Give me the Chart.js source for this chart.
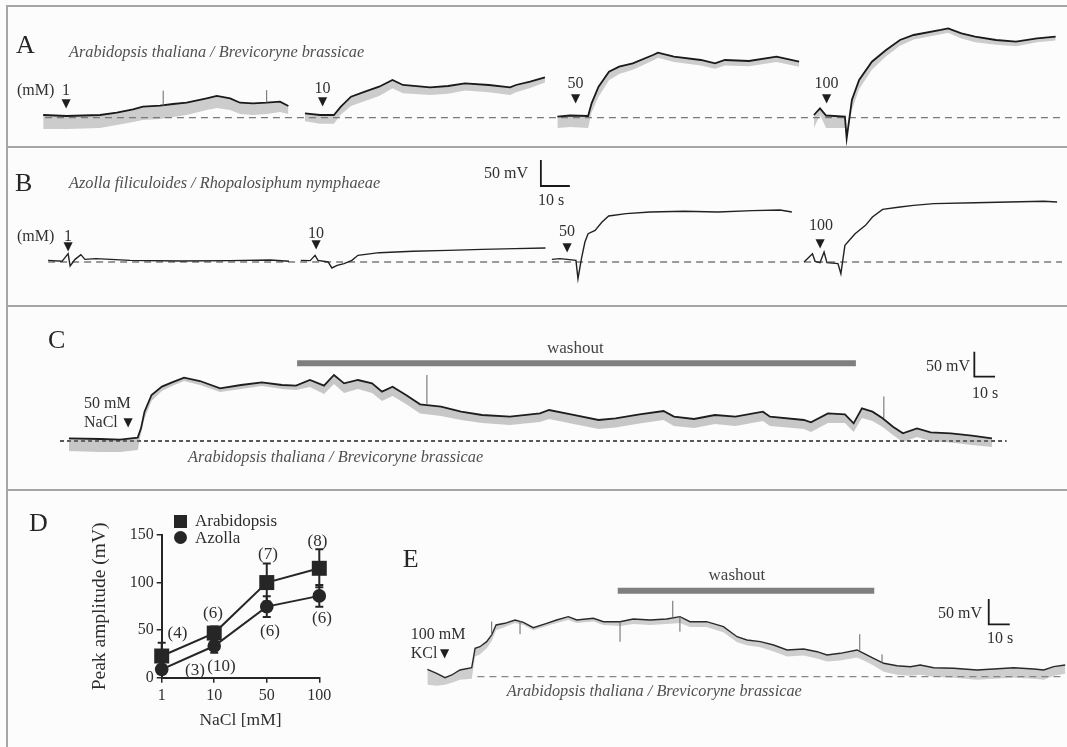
<!DOCTYPE html>
<html>
<head>
<meta charset="utf-8">
<title>NaCl responses</title>
<script src="https://cdn.jsdelivr.net/npm/chart.js@4.4.1/dist/chart.umd.min.js"></script>
<style>
  body { margin: 0; background: #fcfcfc; }
  #fig { position: relative; width: 1067px; height: 747px; overflow: hidden;
         font-family: "Liberation Serif", "Times New Roman", serif; color: #333; }
  .box { position: absolute; }
  .rule { position: absolute; background: #a6a6a6; }
  .t { position: absolute; white-space: nowrap; line-height: 1; }
  .big { font-size: 26px; color: #262626; }
  .it { font-size: 16.3px; font-style: italic; color: #505050; }
  .n { font-size: 16px; color: #303030; }
  .w { font-size: 17px; color: #444; }
  .ax { font-size: 17px; color: #2e2e2e; }
  .tri { font-family: "DejaVu Sans", sans-serif; font-size: 12px; color: #1e1e1e; }
  .key { position: absolute; width: 13px; height: 13px; background: #262626; }
</style>
</head>
<body>
<div id="fig">
  <div class="rule" style="left:6px;top:5px;width:1.5px;height:742px"></div>
  <div class="rule" style="left:6px;top:5px;width:1061px;height:1.5px"></div>
  <div class="rule" style="left:6px;top:146px;width:1061px;height:1.5px"></div>
  <div class="rule" style="left:6px;top:305px;width:1061px;height:1.5px"></div>
  <div class="rule" style="left:6px;top:489px;width:1061px;height:1.5px"></div>

  <div class="box" style="left:0;top:6px;width:1067px;height:140px"><canvas id="chartA"></canvas></div>
  <div class="box" style="left:0;top:147px;width:1067px;height:157px"><canvas id="chartB"></canvas></div>
  <div class="box" style="left:0;top:306px;width:1067px;height:182px"><canvas id="chartC"></canvas></div>
  <div class="box" style="left:60px;top:495px;width:290px;height:250px"><canvas id="chartD"></canvas></div>
  <div class="box" style="left:390px;top:490px;width:677px;height:257px"><canvas id="chartE"></canvas></div>

  <div class="key" style="left:173.5px;top:514.5px"></div>
  <div class="key" style="left:173.5px;top:530.5px;border-radius:50%"></div>
</div>
<script>
// ---- A: Arabidopsis / Brevicoryne, NaCl steps (time s, membrane potential mV above rest)
const a1t = [14.9, 23.0, 34.5, 40.3, 45.9, 49.3, 55.2, 59.7, 64.4, 71.3, 74.8, 79.4, 82.8, 87.3, 92.0, 96.6, 99.5];
const a1v = [5.2, 3.3, 5.2, 9.6, 16.1, 21.1, 23.0, 26.3, 28.8, 37.2, 41.7, 37.2, 28.8, 27.6, 28.8, 30.7, 22.5];
const a1lo = [-21.7, -21.7, -19.8, -14, -8.3, -4.4, -2.5, 1.3, 5.2, 14.8, 18.6, 14.8, 7.1, 5.2, 7.1, 10.9, 7.1];

const a2t = [105.2, 110.4, 115.2, 117.6, 121.1, 125.9, 130.8, 135.4, 139.0, 148.4, 154.6, 160.4, 168.7, 176.0, 178.0, 182.9, 188.0];
const a2v = [8.4, 5.2, 5.2, 21.1, 40.3, 49.9, 59.5, 72.4, 62.8, 58.4, 60.9, 66.0, 62.8, 58.4, 62.8, 69.1, 77.6];
const a2lo = [-6.6, -11.8, -11.8, 6.1, 22.3, 31.9, 41.5, 56.4, 46.8, 43.4, 45.9, 52, 48.8, 43.4, 48.8, 57.1, 67.6];

const a3t = [192.3, 196.7, 202.9, 204.1, 206.5, 210.1, 213.6, 218.3, 225.3, 227.0, 232.5, 241.8, 246.7, 250.1, 258.4, 267.9, 275.7];
const a3v = [1.9, 4.2, 3.3, 27.6, 59.5, 88.3, 97.9, 104.4, 120.4, 124.8, 117.1, 110.8, 104.4, 110.8, 108.9, 117.1, 107.5];
const a3lo = [-20, -18, -20, 10, 40, 72, 84, 92, 110, 115, 107, 100, 94, 100, 99, 107, 98];

const a4t = [280.8, 282.9, 285.0, 291.5, 292.1, 293.9, 296.4, 300.8, 305.7, 310.5, 315.2, 324.6, 327.1, 331.7, 336.4, 343.6, 350.5, 357.8, 364.2];
const a4v = [5.2, 18.0, 4.2, 1.9, -39.6, 34.0, 72.4, 107.5, 130.0, 149.2, 158.8, 168.4, 171.6, 162.0, 155.5, 149.2, 145.9, 152.4, 155.5];
const a4lo = [-20, 5, -20, -20, -39.6, 15, 55, 92, 118, 138, 150, 160, 163, 152, 145, 140, 137, 145, 148];

const aSpikes = [[56.3, 23, 52], [92.0, 29, 53]];

// ---- B: Azolla / Rhopalosiphum
const b1t = [16.6, 21.4, 23.5, 24.2, 25.9, 27.9, 29.3, 33.1, 44.9, 62.1, 79.4, 93.2, 99.7];
const b1v = [3.2, 1.3, 16, -7.7, 5.1, 14.1, 5.1, 6.4, 3.2, 1.9, 2.6, 3.8, 1.3];
const b2t = [103.8, 107.0, 108.7, 109.7, 113.2, 114.5, 116.3, 118.7, 121.4, 123.5, 130.8, 142.5, 154.6, 166.3, 177.7, 188.2];
const b2v = [3.2, 2.6, 12.8, 3.2, 0, -11.5, -6.4, -3.2, 3.2, 12.8, 17.9, 20.5, 22.4, 24.3, 25.6, 26.9];
const b3t = [190.4, 193.2, 198.7, 199.4, 200.6, 201.8, 202.9, 205.3, 207.7, 210.0, 216.0, 224.3, 236.0, 247.7, 259.6, 269.1, 273.2];
const b3v = [5.1, 6.4, 3.2, -32, 6.4, 38.4, 54.4, 60.8, 76.8, 88.3, 92.8, 96, 97.3, 96, 98.6, 99.8, 96];
const b4t = [277.4, 280.3, 281.2, 282.9, 284.3, 285.3, 289.1, 290.1, 291.5, 295.0, 298.6, 301.0, 304.5, 310.5, 315.2, 322.2, 336.4, 348.1, 360.1, 364.7];
const b4v = [0, 16, 1.3, -1.3, 19.2, -1.3, -3.2, -22.4, 32, 54.4, 70.4, 86.4, 101.1, 105.6, 108.8, 112, 113.9, 115.2, 116.5, 115.2];

// ---- C: 50 mM NaCl then washout
const cT = [33.3, 48.3, 58.0, 66.5, 68.1, 69.8, 73.2, 78.2, 83.1, 88.9, 96.6, 106.3, 116.4, 126.5, 136.2, 143.0,
  149.7, 156.5, 161.3, 166.2, 172.9, 179.7, 184.5, 189.6, 196.1, 202.9, 213.0, 222.7, 232.8, 246.3, 260.8,
  265.2, 275.8, 289.1, 297.3, 308.9, 320.5, 325.5, 335.2, 345.3, 355.2, 368.5, 371.9, 388.3, 391.7, 399.9,
  408.1, 412.3, 416.3, 421.4, 426.3, 431.3, 436.1, 442.9, 449.5, 459.3, 469.4, 479.1];
const cV = [5.3, 4.0, 2.7, 6.7, 25.3, 58.7, 92, 108.7, 117.3, 126.7, 120, 105.3, 112, 117.3, 112, 110.7,
  122, 110.7, 132, 115.3, 122, 115.3, 98.7, 108.7, 92, 73.3, 68.7, 58.7, 52, 48.7, 55.3,
  62, 53.3, 42, 45.3, 53.3, 60, 48.7, 44, 52, 48.7, 58.7, 48.7, 42, 37.3, 55.3,
  53.3, 35.3, 65.3, 58.7, 45.3, 28.7, 15.3, 25.3, 17.3, 15.3, 10.7, 5.3];
const cLo = [-20, -22, -22, -18, 15, 45, 80, 100, 110, 120, 112, 98, 104, 110, 104, 102,
  108, 94, 114, 96, 104, 96, 80, 90, 74, 55, 50, 42, 36, 32, 38,
  44, 35, 24, 27, 35, 42, 30, 26, 34, 30, 40, 30, 24, 18, 36,
  36, 18, 46, 40, 28, 12, -2, 8, 0, -3, -8, -12];
const cSpikes = [[206.2, 72, 132], [426.9, 46, 89]];

// ---- E: 100 mM KCl then washout
const eT = [17.8, 22.2, 26.2, 29.4, 33.3, 38.9, 40.5, 42.8, 46.0, 48.4, 50.5, 54.7, 59.5, 63.5, 68.2, 74.6, 79.3, 84.9,
  88.9, 96.8, 101.6, 109.5, 115.8, 123.8, 131.7, 138.0, 142.8, 150.7, 158.7, 165.2, 169.9, 176.3, 182.6, 189.0,
  196.9, 203.3, 208.0, 214.3, 222.3, 225.5, 230.2, 235.0, 241.3, 247.7, 252.4, 258.8, 268.3, 279.4, 287.4, 296.9,
  306.4, 311.2, 315.9, 321.4];
const eV = [14.6, 6.7, -2.0, 3.4, 13.2, 17.8, 56.1, 59.3, 69.2, 82.4, 102.2, 105.5, 112.0, 107.5, 96.8, 105.5, 112.0, 118.6,
  112.0, 115.4, 108.7, 108.7, 114.0, 112.0, 114.0, 118.6, 108.7, 108.7, 98.8, 79.0, 72.5, 69.2, 62.6, 52.8,
  54.7, 49.4, 42.9, 46.2, 52.8, 46.2, 36.4, 26.5, 21.7, 19.8, 23.1, 17.8, 16.6, 13.2, 15.2, 17.8,
  15.2, 13.2, 19.8, 23.1];
const eLo = [-16, -18, -16, -12, -6, -4, 40, 44, 56, 70, 92, 98, 106, 102, 92, 100, 106, 112,
  106, 109, 102, 100, 104, 102, 104, 106, 98, 98, 88, 68, 62, 58, 50, 40,
  42, 36, 30, 32, 38, 32, 22, 10, 4, 2, 4, 0, -2, -6, -4, -2,
  -4, -6, 2, 6];
const eSpikes = [[48.4, 82, 109], [61.9, 110, 84], [109.5, 109, 69], [134.6, 116, 150], [138.0, 119, 89], [223.6, 51, 84], [234.2, 28, 44]];

// ---- D: peak amplitude vs NaCl
const doses = ['1', '10', '50', '100'];
const arabMean = [22.8, 46.9, 100, 115];
const arabErr = [14, 7, 20, 20];
const azollaMean = [8.8, 33.3, 74.7, 86];
const azollaErr = [4, 7, 11, 11.5];

// text annotations: [text, x, y(centre), align, class]
const notes = [
  ['A', 16, 45, 'l', 'big'],
  ['Arabidopsis thaliana / Brevicoryne brassicae', 69, 52, 'l', 'it'],
  ['(mM)', 17, 90, 'l', 'n'], ['1', 66, 90, 'c', 'n'], ['\u25BC', 66, 102.5, 'c', 'tri'],
  ['10', 322.6, 88, 'c', 'n'], ['\u25BC', 322.6, 101, 'c', 'tri'],
  ['50', 575.5, 82.5, 'c', 'n'], ['\u25BC', 575.5, 98, 'c', 'tri'],
  ['100', 826.6, 82.5, 'c', 'n'], ['\u25BC', 826.6, 98, 'c', 'tri'],

  ['B', 15, 183, 'l', 'big'],
  ['Azolla filiculoides / Rhopalosiphum nymphaeae', 69, 183, 'l', 'it'],
  ['50 mV', 528, 173, 'r', 'n'], ['10 s', 538, 200, 'l', 'n'],
  ['(mM)', 17, 236, 'l', 'n'], ['1', 68, 236, 'c', 'n'], ['\u25BC', 68, 246, 'c', 'tri'],
  ['10', 316, 233, 'c', 'n'], ['\u25BC', 316, 244, 'c', 'tri'],
  ['50', 567, 231, 'c', 'n'], ['\u25BC', 567, 247, 'c', 'tri'],
  ['100', 821, 225, 'c', 'n'], ['\u25BC', 820, 243, 'c', 'tri'],

  ['C', 48, 340, 'l', 'big'],
  ['washout', 547, 347, 'l', 'w'],
  ['50 mV', 970, 366, 'r', 'n'], ['10 s', 972, 392.7, 'l', 'n'],
  ['50 mM', 84, 403, 'l', 'n'], ['NaCl', 84, 421.7, 'l', 'n'], ['\u25BC', 128, 421.7, 'c', 'tri'],
  ['Arabidopsis thaliana / Brevicoryne brassicae', 188, 456.7, 'l', 'it'],

  ['D', 29, 523, 'l', 'big'],
  ['Arabidopsis', 195, 520, 'l', 'ax'], ['Azolla', 195, 537, 'l', 'ax'],
  ['(4)', 177.5, 631.7, 'c', 'ax'], ['(3)', 195, 669, 'c', 'ax'], ['(10)', 221.5, 665, 'c', 'ax'],
  ['(6)', 213, 611.7, 'c', 'ax'], ['(7)', 268, 553, 'c', 'ax'], ['(6)', 270, 630, 'c', 'ax'],
  ['(8)', 317.5, 540, 'c', 'ax'], ['(6)', 322, 616.7, 'c', 'ax'],

  ['E', 402.7, 559, 'l', 'big'],
  ['washout', 708.6, 574.3, 'l', 'w'],
  ['50 mV', 982, 613.3, 'r', 'n'], ['10 s', 987, 638.3, 'l', 'n'],
  ['100 mM', 410.7, 634, 'l', 'n'], ['KCl', 410.7, 652.7, 'l', 'n'], ['\u25BC', 444.5, 652.7, 'c', 'tri'],
  ['Arabidopsis thaliana / Brevicoryne brassicae', 506.7, 691, 'l', 'it']
];

const fig = document.getElementById('fig');
notes.forEach(([txt, x, y, al, cls]) => {
  const d = document.createElement('div');
  d.className = 't ' + cls;
  d.textContent = txt;
  d.style.left = x + 'px';
  d.style.top = y + 'px';
  d.style.transform = 'translate(' + (al === 'c' ? '-50%' : al === 'r' ? '-100%' : '0') + ', -50%)';
  fig.appendChild(d);
});

// spikes and scale bars, drawn through the chart scales
const marks = {
  id: 'marks',
  afterDatasetsDraw(chart, args, opts) {
    const { ctx, scales: { x, y } } = chart;
    ctx.save();
    ctx.strokeStyle = '#666';
    ctx.lineWidth = 1;
    (opts.spikes || []).forEach(([t, a, b]) => {
      ctx.beginPath();
      ctx.moveTo(x.getPixelForValue(t), y.getPixelForValue(a));
      ctx.lineTo(x.getPixelForValue(t), y.getPixelForValue(b));
      ctx.stroke();
    });
    if (opts.bar) {
      const [t, v] = opts.bar;
      ctx.strokeStyle = '#1a1a1a';
      ctx.lineWidth = 1.8;
      ctx.beginPath();
      ctx.moveTo(x.getPixelForValue(t), y.getPixelForValue(v + 50));
      ctx.lineTo(x.getPixelForValue(t), y.getPixelForValue(v));
      ctx.lineTo(x.getPixelForValue(t + 10), y.getPixelForValue(v));
      ctx.stroke();
    }
    ctx.restore();
  }
};

const pts = (t, v) => t.map((tt, i) => ({ x: tt, y: v[i] }));

function trace(id, p) {
  const datasets = [];
  p.segs.forEach(s => {
    datasets.push({ data: pts(s.t, s.v), borderColor: p.color, borderWidth: p.width, fill: false });
    if (s.lo) {
      datasets.push({ data: pts(s.t, s.lo), borderWidth: 0, borderColor: 'rgba(0,0,0,0)', backgroundColor: p.band, fill: '-1' });
    }
  });
  if (p.wash) {
    datasets.push({ data: pts([p.wash[0], p.wash[1]], [p.wash[2], p.wash[2]]), borderColor: '#7f7f7f', borderWidth: 6, borderCapStyle: 'butt' });
  }
  datasets.push({ data: pts(p.base, [0, 0]), borderColor: p.dashColor, borderWidth: 1.3, borderDash: p.dash });

  return new Chart(document.getElementById(id), {
    type: 'line',
    data: { datasets },
    options: {
      animation: false,
      responsive: true,
      maintainAspectRatio: false,
      events: [],
      layout: { padding: 0 },
      elements: { point: { radius: 0 }, line: { tension: 0 } },
      scales: {
        x: { type: 'linear', display: false, min: 0, max: p.w * p.sPx },
        y: { display: false, min: -(p.h - p.row) * p.mvPx, max: p.row * p.mvPx }
      },
      plugins: {
        legend: { display: false },
        tooltip: { enabled: false },
        marks: { spikes: p.spikes, bar: p.bar }
      }
    },
    plugins: [marks]
  });
}

trace('chartA', {
  w: 1067, h: 140, row: 111.7, mvPx: 1.92, sPx: 0.345,
  color: '#1a1a1a', width: 1.8, band: 'rgba(120,120,120,0.36)',
  segs: [{ t: a1t, v: a1v, lo: a1lo }, { t: a2t, v: a2v, lo: a2lo }, { t: a3t, v: a3v, lo: a3lo }, { t: a4t, v: a4v, lo: a4lo }],
  base: [15.5, 366.4], dashColor: '#7a7a7a', dash: [7, 5],
  spikes: aSpikes
});

trace('chartB', {
  w: 1067, h: 157, row: 115, mvPx: 1.92, sPx: 0.345,
  color: '#222', width: 1.4,
  segs: [{ t: b1t, v: b1v }, { t: b2t, v: b2v }, { t: b3t, v: b3v }, { t: b4t, v: b4v }],
  base: [16.6, 366.4], dashColor: '#7a7a7a', dash: [7, 5],
  bar: [186.6, 145.9]
});

trace('chartC', {
  w: 1067, h: 182, row: 135, mvPx: 2.0, sPx: 0.483,
  color: '#1e1e1e', width: 1.8, band: 'rgba(120,120,120,0.4)',
  segs: [{ t: cT, v: cV, lo: cLo }],
  wash: [143.5, 413.4, 155.4],
  base: [29.0, 486.2], dashColor: '#222', dash: [4, 3],
  spikes: cSpikes, bar: [470.6, 128.6]
});

trace('chartE', {
  w: 677, h: 257, row: 186.7, mvPx: 1.976, sPx: 0.476,
  color: '#2a2a2a', width: 1.4, band: 'rgba(125,125,125,0.36)',
  segs: [{ t: eT, v: eV, lo: eLo }],
  wash: [108.4, 230.5, 169.9],
  base: [41.6, 319.9], dashColor: '#888', dash: [7, 5],
  spikes: eSpikes, bar: [285.0, 103.5]
});

// error bars for panel D
const errBars = {
  id: 'errBars',
  beforeDatasetsDraw(chart, args, opts) {
    const { ctx, scales: { x, y } } = chart;
    ctx.save();
    ctx.strokeStyle = '#262626';
    ctx.lineWidth = 2;
    opts.sets.forEach(([means, errs]) => means.forEach((m, i) => {
      const px = x.getPixelForValue(i);
      const top = y.getPixelForValue(m + errs[i]);
      const bot = y.getPixelForValue(m - errs[i]);
      ctx.beginPath();
      ctx.moveTo(px, top); ctx.lineTo(px, bot);
      ctx.moveTo(px - 4, top); ctx.lineTo(px + 4, top);
      ctx.moveTo(px - 4, bot); ctx.lineTo(px + 4, bot);
      ctx.stroke();
    }));
    ctx.restore();
  }
};

const serif = 'Liberation Serif';
new Chart(document.getElementById('chartD'), {
  type: 'line',
  data: {
    labels: doses,
    datasets: [
      { label: 'Arabidopsis', data: arabMean, pointStyle: 'rect', pointRadius: 10.6,
        borderColor: '#262626', backgroundColor: '#262626', borderWidth: 2, pointBorderWidth: 0, clip: false },
      { label: 'Azolla', data: azollaMean, pointStyle: 'circle', pointRadius: 6.8,
        borderColor: '#262626', backgroundColor: '#262626', borderWidth: 2, pointBorderWidth: 0, clip: false }
    ]
  },
  options: {
    animation: false,
    responsive: true,
    maintainAspectRatio: false,
    events: [],
    layout: { padding: { left: 24, top: 40, right: 30.7, bottom: 10 } },
    scales: {
      x: {
        offset: false,
        grid: { drawOnChartArea: false, tickLength: 5, color: '#262626', lineWidth: 1.5 },
        border: { color: '#262626', width: 2 },
        ticks: { color: '#2e2e2e', font: { family: serif, size: 16 }, padding: 3, maxRotation: 0 },
        title: { display: true, text: 'NaCl [mM]', color: '#2e2e2e', font: { family: serif, size: 17.5 } },
        afterFit(s) { s.height = 57.3; }
      },
      y: {
        min: 0, max: 150,
        grid: { drawOnChartArea: false, tickLength: 5, color: '#262626', lineWidth: 1.5 },
        border: { color: '#262626', width: 2 },
        ticks: { stepSize: 50, color: '#2e2e2e', font: { family: serif, size: 16 }, padding: 3 },
        title: { display: true, text: 'Peak amplitude (mV)', color: '#2e2e2e', font: { family: serif, size: 19.5 } },
        afterFit(s) { s.width = 77.7; }
      }
    },
    plugins: {
      legend: { display: false },
      tooltip: { enabled: false },
      errBars: { sets: [[arabMean, arabErr], [azollaMean, azollaErr]] }
    }
  },
  plugins: [errBars]
});
</script>
</body>
</html>
